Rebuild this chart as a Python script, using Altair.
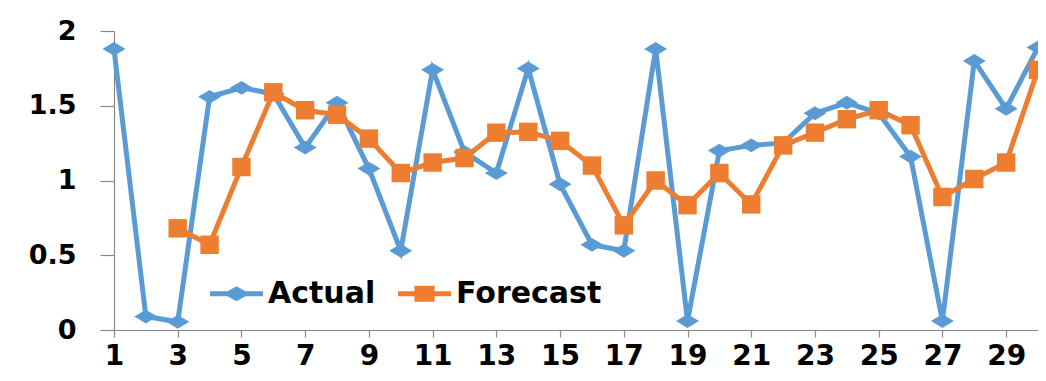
import altair as alt
import pandas as pd

periods = list(range(1, 31))
actual = [1.88, 0.09, 0.055, 1.56, 1.62, 1.58, 1.22, 1.52, 1.08, 0.53,
          1.74, 1.19, 1.05, 1.75, 0.975, 0.57, 0.53, 1.88, 0.06, 1.20,
          1.235, 1.25, 1.45, 1.52, 1.45, 1.16, 0.06, 1.80, 1.48, 1.89]
forecast_periods = list(range(3, 31))
forecast = [0.68, 0.57, 1.09, 1.59, 1.47, 1.44, 1.28, 1.05, 1.12, 1.15,
            1.32, 1.325, 1.265, 1.10, 0.70, 1.00, 0.835, 1.05, 0.84, 1.235,
            1.32, 1.41, 1.47, 1.37, 0.89, 1.01, 1.12, 1.74]
series = ["Actual", "Forecast"]

BLUE = "#5B9BD5"
ORANGE = "#ED7D31"

df_a = pd.DataFrame({"x": periods, "y": actual, "series": "Actual"})
df_f = pd.DataFrame({"x": forecast_periods, "y": forecast, "series": "Forecast"})
df_all = pd.concat([df_a, df_f])

x_enc = alt.X("x:Q",
              scale=alt.Scale(domain=[1, 30], nice=False, zero=False),
              axis=alt.Axis(values=periods, title=None, grid=False,
                            labelExpr="datum.value % 2 == 1 ? datum.label : ''",
                            labelOverlap=False, labelFlush=False,
                            tickSize=7, labelPadding=5, labelFontSize=28))
y_enc = alt.Y("y:Q",
              scale=alt.Scale(domain=[0, 2], nice=False),
              axis=alt.Axis(values=[0, 0.5, 1, 1.5, 2], format="~g", title=None,
                            grid=False, tickSize=14, labelPadding=24,
                            labelFontSize=27))

diamond = "M-1,0L0,-0.6L1,0L0,0.6Z"

line_a = alt.Chart(df_a).mark_line(color=BLUE, strokeWidth=5).encode(x=x_enc, y=y_enc)
pts_a = alt.Chart(df_a).mark_point(shape=diamond, filled=True, size=529,
                                   color=BLUE, opacity=1).encode(x="x:Q", y="y:Q")
line_f = alt.Chart(df_f).mark_line(color=ORANGE, strokeWidth=5).encode(x="x:Q", y="y:Q")
pts_f = alt.Chart(df_f).mark_point(shape="square", filled=True, size=340,
                                   color=ORANGE, opacity=1).encode(x="x:Q", y="y:Q")

leg_a = "M-1,-0.094H1V0.094H-1Z M-0.51,0L0,-0.28L0.51,0L0,0.28Z"
leg_f = "M-1,-0.094H1V0.094H-1Z M-0.38,-0.3H0.38V0.3H-0.38Z"

legend = alt.Legend(title=None, orient="none", direction="horizontal",
                    legendX=96, legendY=236, symbolSize=2809,
                    symbolStrokeWidth=0, labelFontSize=30, labelFont="DejaVu Sans",
                    labelFontWeight="bold", labelColor="black", labelOffset=5,
                    columnPadding=22, padding=0, symbolOpacity=1)

leg_layer = alt.Chart(df_all).mark_point(filled=True, opacity=1).encode(
    color=alt.Color("series:N", scale=alt.Scale(domain=series, range=[BLUE, ORANGE]), legend=legend),
    shape=alt.Shape("series:N", scale=alt.Scale(domain=series, range=[leg_a, leg_f]), legend=legend),
).transform_filter("false")

chart = alt.layer(line_a, line_f, pts_a, pts_f, leg_layer).properties(
    width=924, height=299,
    autosize=alt.AutoSizeParams(type="none"),
    padding={"left": 106, "top": 23, "right": 0, "bottom": 43},
).configure_view(stroke=None).configure_axis(
    labelFont="DejaVu Sans", labelFontWeight="bold", labelColor="black",
    domainColor="#888888", tickColor="#888888", domainWidth=1.2, tickWidth=1.2,
)

chart.save("out.html", embed_options={"renderer": "svg", "actions": False})
